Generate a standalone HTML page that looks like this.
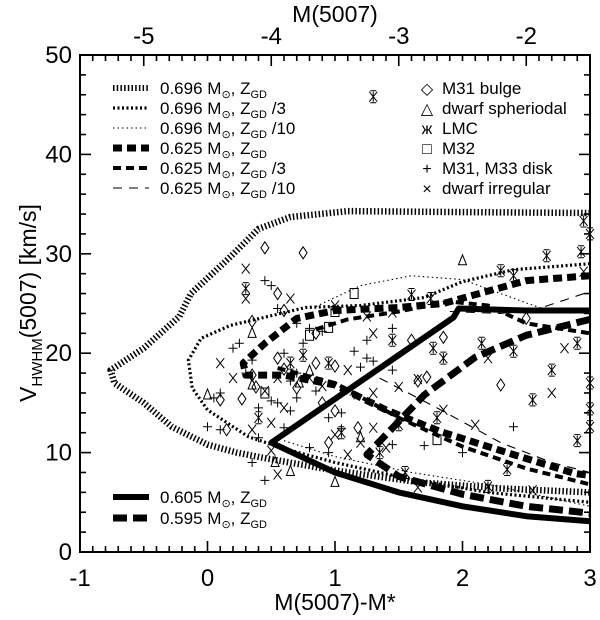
<!DOCTYPE html>
<html><head><meta charset="utf-8">
<style>
html,body{margin:0;padding:0;background:#fff;}
svg{display:block;font-family:"Liberation Sans",Arial,sans-serif;}
</style></head>
<body>
<svg id="chart" width="600" height="620" viewBox="0 0 600 620">
<g id="curves"></g>
<g id="points"></g>
<g id="axes">
<rect x="80" y="55" width="510" height="497" fill="none" stroke="#000" stroke-width="2"/>
<line x1="80" y1="55" x2="590" y2="55" stroke="#000" stroke-width="2"/>
<line x1="80" y1="552" x2="590" y2="552" stroke="#000" stroke-width="2"/>
<line x1="80" y1="55" x2="80" y2="552" stroke="#000" stroke-width="2"/>
<line x1="590" y1="55" x2="590" y2="552" stroke="#000" stroke-width="2"/>
<g id="tickgroup"></g>
</g>
<g id="legend"></g>
</svg>
<script>
// ---------- data ----------
const xTicks = [-1, 0, 1, 2, 3];
const yTicks = [0, 10, 20, 30, 40, 50];
const topTicks = [-5, -4, -3, -2];
const mStar = -4.5;

const c696 = [[3,34.1],[2,34.2],[1.1,34.3],[0.65,33.7],[0.4,32.5],[0.18,29.7],[-0.13,26],[-0.22,23.7],[-0.5,20.5],[-0.76,18.3],[-0.73,17],[-0.5,15],[-0.28,12.6],[0.0,10.8],[0.23,10],[0.47,9.4],[1.0,8.2],[1.67,7],[2.3,6.4],[3,6]];
const c696_3 = [[3,29],[2.4,28.4],[2.0,27.2],[1.7,25.6],[1.2,24.8],[0.77,24.6],[0.18,22.8],[-0.05,21.5],[-0.15,19.3],[-0.12,16.5],[0,14.3],[0.32,11.6],[0.6,10.4],[1.0,9],[1.6,7.3],[2.2,6],[3,5]];
const c696_10 = [[0.85,24.7],[1.2,26.8],[1.6,27.8],[2.0,27.4],[2.3,26],[2.6,24.6],[3,24],null,[0.6,11.2],[1.0,9.6],[1.6,8],[2.2,6.8],[3,4.6]];
const c625 = [[3,27.8],[2.5,27.3],[2.13,26],[1.85,25],[1.5,24.6],[1.0,24.3],[0.7,23.5],[0.45,21],[0.28,19],[0.3,17.8],[0.6,17.8],[1.0,16.8],[1.4,14.3],[1.83,12.1],[2.4,9.8],[2.88,7.9],[3,7.7]];
const c625_3 = [[0.85,22.4],[1.1,23.4],[1.5,24.2],[1.9,25.2],[2.2,24.8],[2.5,23],[3,22],null,[0.55,18.5],[1.0,17],[1.5,13.5],[2.0,10.6],[2.5,8.4],[3,6.8]];
const c625_10 = [[1.9,24.2],[2.3,24],[2.6,24.5],[3,26.2],null,[1.35,17.5],[1.8,14.5],[2.3,11],[2.7,9],[3,8]];
const c605 = [[3,24.3],[2.5,24.3],[1.97,24.5],[1.93,23.6],[0.5,11],[1.0,8],[1.5,6],[2.0,4.6],[2.5,3.6],[3,3.1]];
const c595 = [[3,23.4],[2.5,21.8],[2.1,19.6],[1.7,15.8],[1.25,9.8],[1.5,7.6],[2.0,5.8],[2.5,4.6],[3,3.9]];

const ptsDiamond = [[0.45,30.6],[0.75,30.1],[0.55,26],[0.6,24.3],[0.35,23.2],[0.85,22],[1.85,21.6],[2.5,23.5],[0.1,15.3],[0.27,15.4],[0.35,17.8],[0.15,12.3],[0.55,19.5],[0.9,15],[1.0,14.2],[1.65,17.2],[1.72,17.6],[2.3,16.8],[0.95,11],[1.0,18.7],[0.7,16.5],[0.38,16.6],[0.85,19],[1.6,21.3],[0.6,18.4],[1.18,12.5]];
const ptsTriangle = [[0.0,15.8],[0.35,22],[0.65,8.1],[0.53,9],[0.35,16.8],[0.72,17],[1.0,7],[2.0,29.3],[0.8,18.2],[1.2,11.5]];
const ptsStar = [[1.3,45.8],[2.95,33.3],[3.0,32],[2.93,30.2],[2.66,29.8],[2.3,28.3],[2.4,27.8],[1.6,25.9],[1.75,25.5],[2.15,21],[2.4,20.2],[2.7,18.3],[2.55,15.3],[3.0,17],[3.0,14.4],[3.0,12.6],[2.9,11.2],[2.35,8.3],[2.2,6.6],[2.9,21],[1.85,19.5],[1.77,20.5],[0.65,19],[0.75,19.8],[0.4,13.5],[1.45,21.3],[0.3,26.5],[1.5,12.8],[1.05,12],[0.95,19],[1.35,10],[1.8,13.5],[1.55,8]];
const ptsSquare = [[1.15,26],[0.8,21.8],[1.8,11.3],[1.0,24.2],[0.95,22.6],[0.45,16]];
const ptsPlus = [[0.45,27.3],[0.5,26.8],[0.55,24.5],[0.6,20],[0.35,19.3],[0.3,18],[0.7,23],[0.8,22.5],[0.9,22.2],[0.75,21],[0.2,20.5],[0.25,21],[0.1,16],[0.05,15.5],[0.0,12.6],[0.1,12.3],[0.4,14.5],[0.5,15.2],[0.55,15],[0.65,14.2],[0.7,15.5],[0.85,16.2],[0.95,13.5],[1.05,14],[1.15,15.8],[1.2,18.6],[1.25,19.5],[1.3,19.2],[1.15,20.2],[1.25,21.3],[1.45,22.5],[1.45,18.3],[0.6,12.5],[0.8,10.5],[0.35,9],[0.45,7.2],[0.95,10],[1.7,10.7],[1.45,10.8],[2.4,12.6],[2.0,10],[0.4,11.5],[0.7,18],[0.65,17.2],[1.05,12.4]];
const ptsX = [[0.3,28.5],[0.3,25.5],[0.65,25.5],[0.1,19],[0.2,17.5],[0.55,17.5],[0.8,17.5],[0.9,16.7],[0.45,16.2],[0.6,14.5],[0.5,13],[0.35,12.3],[1.0,24.8],[1.25,23.7],[1.45,24.1],[1.3,22],[1.1,18.3],[1.3,16],[1.5,16.6],[1.65,17.4],[2.2,19.5],[1.85,14.3],[1.0,11.8],[1.2,11],[1.3,12.5],[0.55,7.8],[0.5,10.2],[1.4,10.5],[2.95,28.2],[2.8,20.5],[2.7,16],[2.1,12.8],[1.1,9.8],[1.65,6.5],[2.55,6.2]];

// ---------- scales ----------
const X0 = 80, X1 = 590, Y0 = 552, Y1 = 55;
const sx = v => X0 + (v + 1) / 4 * (X1 - X0);
const sy = v => Y0 - v / 50 * (Y0 - Y1);
const NS = "http://www.w3.org/2000/svg";
function mk(tag, attrs, parent) {
  const e = document.createElementNS(NS, tag);
  for (const k in attrs) e.setAttribute(k, attrs[k]);
  parent.appendChild(e);
  return e;
}
function pathFrom(pts) {
  let d = "", start = true;
  pts.forEach(p => {
    if (p === null) { start = true; return; }
    d += (start ? "M" : "L") + sx(p[0]).toFixed(1) + "," + sy(p[1]).toFixed(1) + " ";
    start = false;
  });
  return d;
}
const styles = [
  {data: c696, w: 6.5, dash: "1.5,2.2", name: "curve-0696-zgd"},
  {data: c696_3, w: 3.2, dash: "2,2.5", name: "curve-0696-zgd-3"},
  {data: c696_10, w: 1.1, dash: "1.5,3", name: "curve-0696-zgd-10"},
  {data: c625, w: 7, dash: "9,5", name: "curve-0625-zgd"},
  {data: c625_3, w: 4, dash: "8,5", name: "curve-0625-zgd-3"},
  {data: c625_10, w: 1.1, dash: "9,7", name: "curve-0625-zgd-10"},
  {data: c605, w: 6, dash: "none", name: "curve-0605-zgd"},
  {data: c595, w: 7, dash: "14,6", name: "curve-0595-zgd"}
];
const gC = document.getElementById("curves");
styles.forEach(s => {
  const p = mk("path", {d: pathFrom(s.data), fill: "none", stroke: "#000", "stroke-width": s.w, "stroke-dasharray": s.dash, "stroke-linejoin": "round"}, gC);
  
  
});

// ---------- markers ----------
function marker(type, cx, cy, parent) {
  const r = 4.5;
  let d = "";
  if (type === "diamond") d = `M${cx},${cy-6} L${cx+4},${cy} L${cx},${cy+6} L${cx-4},${cy} Z`;
  else if (type === "triangle") d = `M${cx},${cy-6} L${cx+4},${cy+4} L${cx-4},${cy+4} Z`;
  else if (type === "square") d = `M${cx-4},${cy-5} h8 v10 h-8 Z`;
  else if (type === "plus") d = `M${cx-r},${cy} h${2*r} M${cx},${cy-r} v${2*r}`;
  else if (type === "x") d = `M${cx-4},${cy-5} L${cx+4},${cy+5} M${cx+4},${cy-5} L${cx-4},${cy+5}`;
  else d = `M${cx-4},${cy-5} L${cx+4},${cy+5} M${cx+4},${cy-5} L${cx-4},${cy+5} M${cx},${cy-5} v10 M${cx-3},${cy-6} h6 M${cx-3},${cy+6} h6`;
  return mk("path", {d: d, fill: "none", stroke: "#000", "stroke-width": 1}, parent);
}
const gP = document.getElementById("points");
[["diamond", ptsDiamond], ["triangle", ptsTriangle], ["star", ptsStar], ["square", ptsSquare], ["plus", ptsPlus], ["x", ptsX]].forEach(([t, arr]) => {
  arr.forEach(p => {
    const m = marker(t, sx(p[0]), sy(p[1]), gP);
    
    
  });
});

// ---------- axes ----------
const gA = document.getElementById("axes");
const gT = document.getElementById("tickgroup");
function tick(x1, y1, x2, y2) {
  const l = mk("line", {x1: x1, y1: y1, x2: x2, y2: y2, stroke: "#000", "stroke-width": 1.6}, gT);
  
  
}
for (let i = 0; i <= 40; i++) {
  const x = sx(-1 + i * 0.1), L = (i % 10 === 0) ? 11 : 6;
  tick(x, Y0, x, Y0 - L);
}
for (let i = -54; i <= -15; i++) {
  const v = i / 10 - mStar;
  if (v < -1.001 || v > 3.001) continue;
  const L = (i % 10 === 0) ? 11 : 6;
  tick(sx(v), Y1, sx(v), Y1 + L);
}
for (let i = 0; i <= 25; i++) {
  const y = sy(i * 2), L = (i % 5 === 0) ? 11 : 6;
  tick(X0, y, X0 + L, y);
  tick(X1, y, X1 - L, y);
}
xTicks.forEach(v => {
  const t = mk("text", {x: sx(v), y: 586, "font-size": 24, "text-anchor": "middle"}, gA);
  t.textContent = v;
  
  
});
topTicks.forEach(m => {
  const t = mk("text", {x: sx(m - mStar), y: 44, "font-size": 24, "text-anchor": "middle"}, gA);
  t.textContent = m;
  
  
});
yTicks.forEach(v => {
  const t = mk("text", {x: 72, y: sy(v) + 8, "font-size": 24, "text-anchor": "end"}, gA);
  t.textContent = v;
  
  
});
</script>
<script>
function addHTML(parent, html) {
  const g = document.createElementNS("http://www.w3.org/2000/svg", "g");
  g.innerHTML = html;
  parent.appendChild(g);
  return g;
}
addHTML(document.getElementById("axes"), `
<text x="335" y="610" font-size="23" text-anchor="middle">M(5007)-M*</text>
<text x="335" y="22" font-size="23" text-anchor="middle">M(5007)</text>
<text transform="translate(36,303) rotate(-90)" font-size="23" text-anchor="middle">V<tspan font-size="15" dy="6">HWHM</tspan><tspan dy="-6">(5007) [km/s]</tspan></text>
`);
const leg = document.getElementById("legend");
const rows = [
  [88, 6, "1.5,2.2", "0.696", ""],
  [108, 3.2, "2,2.5", "0.696", " /3"],
  [128, 1.1, "1.5,3", "0.696", " /10"],
  [148, 7, "9,5", "0.625", ""],
  [168, 4, "8,5", "0.625", " /3"],
  [188, 1.1, "9,7", "0.625", " /10"],
  [497, 6, "none", "0.605", ""],
  [518, 7, "14,6", "0.595", ""]
];
let h = "";
rows.forEach(r => {
  h += `<g><line x1="113" x2="149" y1="${r[0]}" y2="${r[0]}" stroke="#000" stroke-width="${r[1]}" stroke-dasharray="${r[2]}"/>
  <text x="160" y="${r[0]+6}" font-size="17">${r[3]} M<tspan font-size="11" dy="4">⊙</tspan><tspan dy="-4">, Z</tspan><tspan font-size="11" dy="4">GD</tspan><tspan dy="-4">${r[4]}</tspan></text></g>`;
});
const syms = [["◇","M31 bulge"],["△","dwarf spheriodal"],["ж","LMC"],["□","M32"],["+","M31, M33 disk"],["×","dwarf irregular"]];
syms.forEach((s, i) => {
  const y = 88 + i * 20;
  h += `<g><text x="427" y="${y+6}" font-size="16" text-anchor="middle">${s[0]}</text><text x="442" y="${y+6}" font-size="17">${s[1]}</text></g>`;
});
addHTML(leg, h);
</script>
</body></html>
